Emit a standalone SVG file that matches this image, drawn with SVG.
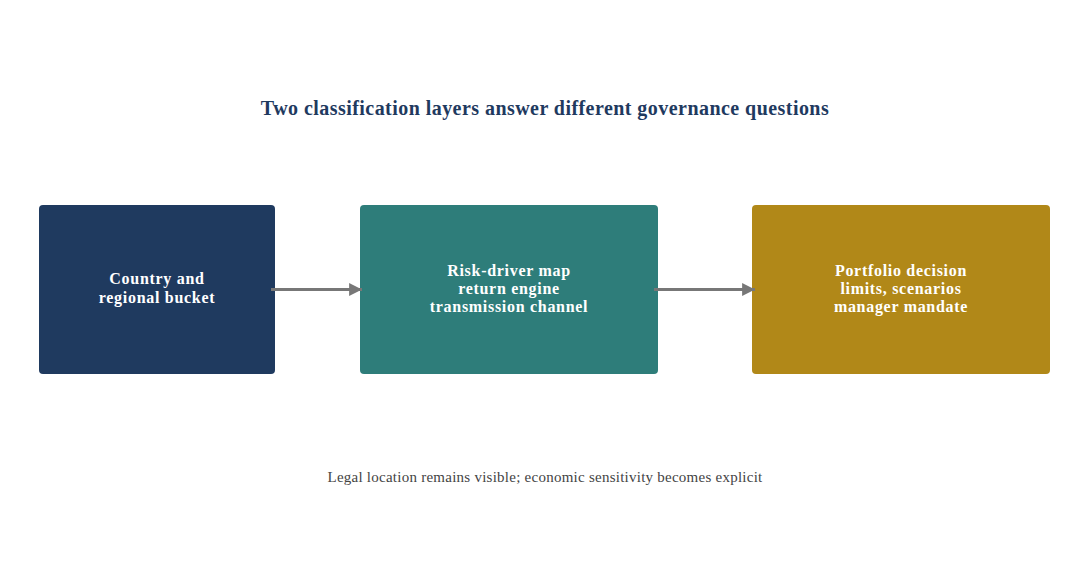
<svg xmlns="http://www.w3.org/2000/svg" width="1090" height="570" viewBox="0 0 1090 570">
<style>
.title{font-family:"Liberation Serif",serif;font-size:20px;font-weight:bold;fill:#1f3a5f;text-anchor:middle;letter-spacing:0.45px}
.lbl{font-family:"Liberation Serif",serif;font-size:16px;font-weight:bold;fill:#ffffff;text-anchor:middle;letter-spacing:0.7px}
.foot{font-family:"Liberation Serif",serif;font-size:15px;fill:#444444;text-anchor:middle;letter-spacing:0.25px}
.edge{stroke:#777777;stroke-width:3;fill:none;marker-end:url(#ah)}
</style>
<defs>
<marker id="ah" viewBox="0 0 10 10" refX="10" refY="5" markerWidth="4.3" markerHeight="4.3" orient="auto" markerUnits="strokeWidth">
<path d="M0,0 L10,5 L0,10 z" fill="#777777"/>
</marker>
</defs>
<rect width="1090" height="570" fill="#ffffff"/>
<text class="title" x="545" y="115">Two classification layers answer different governance questions</text>
<g id="node-country">
<rect x="39" y="205" width="236" height="169" rx="4" fill="#1f3a5f"/>
<text class="lbl" x="157" y="284">Country and</text>
<text class="lbl" x="157" y="303">regional bucket</text>
</g>
<g id="node-risk">
<rect x="360" y="205" width="298" height="169" rx="4" fill="#2e7d7a"/>
<text class="lbl" x="509" y="276">Risk-driver map</text>
<text class="lbl" x="509" y="294">return engine</text>
<text class="lbl" x="509" y="312">transmission channel</text>
</g>
<g id="node-portfolio">
<rect x="752" y="205" width="298" height="169" rx="4" fill="#b18818"/>
<text class="lbl" x="901" y="276">Portfolio decision</text>
<text class="lbl" x="901" y="294">limits, scenarios</text>
<text class="lbl" x="901" y="312">manager mandate</text>
</g>
<g id="connectors">
<line class="edge" x1="271" y1="289.5" x2="362" y2="289.5"/>
<line class="edge" x1="654" y1="289.5" x2="755" y2="289.5"/>
</g>
<text class="foot" x="545" y="482">Legal location remains visible; economic sensitivity becomes explicit</text>
</svg>
